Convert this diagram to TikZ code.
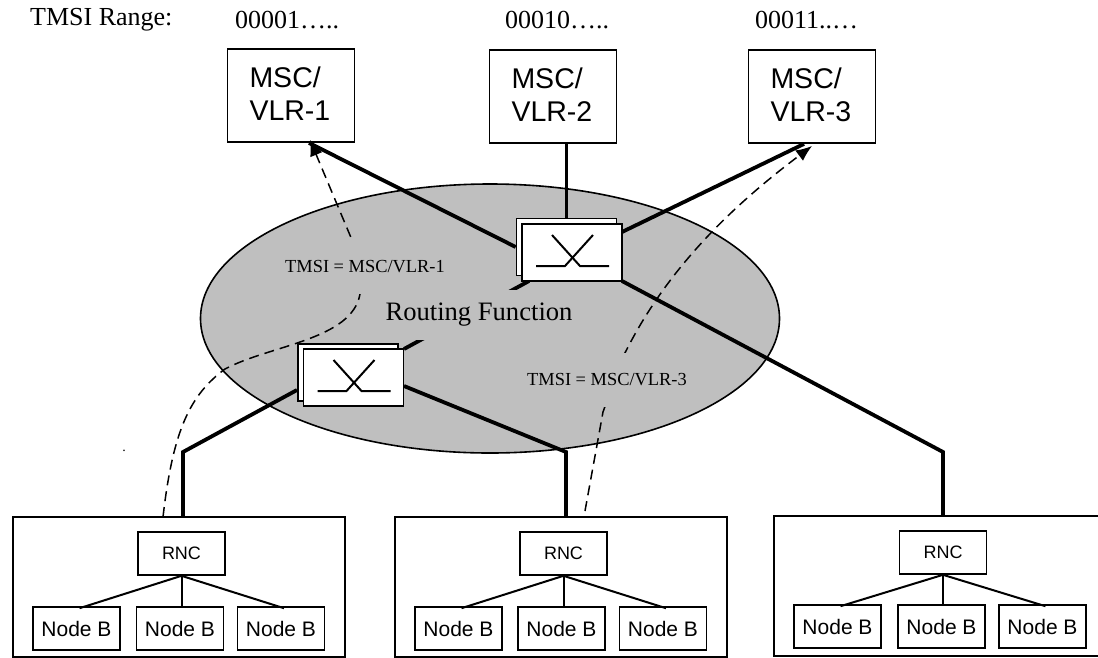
\documentclass[tikz,border=0pt]{standalone}
\usepackage{fontspec}
\setmainfont{Liberation Serif}
\setsansfont{Liberation Sans}
\usetikzlibrary{arrows.meta, shapes.geometric}
\definecolor{routegray}{HTML}{BFBFBF}
\tikzset{
    mscbox/.style = {draw, line width = 1.8, minimum width = 127, minimum height = 93, inner sep = 0, text width = 83, text depth = 37.6pt, font = \sffamily\fontsize{28.5}{33}\selectfont, align = left},
    rncbox/.style = {draw, line width = 1.6, minimum width = 87, minimum height = 43, inner sep = 0, font = \sffamily\fontsize{18}{20}\selectfont},
    nodebbox/.style = {draw, line width = 1.6, minimum width = 87, minimum height = 43, inner sep = 0, font = \sffamily\fontsize{21}{24}\selectfont},
    ranbox/.style = {draw, line width = 1.4, minimum width = 332, minimum height = 140, inner sep = 0},
    switchbox/.style = {draw, fill = white, line width = 1.6, minimum width = 100, minimum height = 57, inner sep = 0},
    trunk/.style = {line width = 3.8},
    linkline/.style = {line width = 2},
    signal/.style = {dash pattern = on 10pt off 6pt, line width = 1.5},
    rangetext/.style = {font = \fontsize{26}{30}\selectfont, inner sep = 0, anchor = base west},
    tmsitext/.style = {fill = routegray, inner sep = 0, minimum height = 54, font = \fontsize{18.4}{22}\selectfont}
}
\begin{document}
\begin{tikzpicture}[x = 1pt, y = -1pt]
    \useasboundingbox (0, 0) rectangle (1098, 657);
    \node[rangetext] (rangelabel) at (30, 25) {TMSI Range:};
    \node[rangetext] (range1) at (235, 28) {00001…..};
    \node[rangetext] (range2) at (505, 28) {00010…..};
    \node[rangetext] (range3) at (755, 28) {00011..…};
    \node[inner sep = 0, font = \fontsize{14}{16}\selectfont] (straydot) at (124, 451) {.};
    \node[mscbox] (msc1) at (291, 95.5) {MSC/\\VLR-1};
    \node[mscbox] (msc2) at (553, 96.5) {MSC/\\VLR-2};
    \node[mscbox] (msc3) at (812, 96.5) {MSC/\\VLR-3};
    \node[draw, ellipse, fill = routegray, line width = 1.6, minimum width = 579, minimum height = 269, inner sep = 0] (routing) at (490, 318.5) {};
    \foreach \n/\xg/\yg/\xr/\xa/\xb/\xc/\ya in {1/179/587/181.5/76.5/180/281/628.5, 2/561/587/563.5/458.5/561.5/663/628.5, 3/940/586/943/837.5/941.5/1042.5/626.5} {
        \node[ranbox] (ran\n) at (\xg, \yg) {};
        \node[rncbox] (rnc\n) at (\xr, \yg - 33.5) {RNC};
        \node[nodebbox] (nb\n a) at (\xa, \ya) {Node B};
        \node[nodebbox] (nb\n b) at (\xb, \ya) {Node B};
        \node[nodebbox] (nb\n c) at (\xc, \ya) {Node B};
        \draw[linkline] ([xshift = 3, yshift = -2]nb\n a.north) -- (rnc\n.south) -- ([xshift = 3, yshift = -2]nb\n c.north);
        \draw[linkline] (rnc\n.south) -- (rnc\n.south |- nb\n b.north);
    }
    \node[switchbox] (sw1b) at (566.5, 247) {};
    \node[switchbox] (sw2b) at (348, 372.5) {};
    \coordinate (elbow1) at (183, 452);
    \coordinate (elbow2) at (566, 452);
    \coordinate (elbow3) at (943, 452);
    \coordinate (sw1top) at (622, 232);
    \coordinate (sw1left) at (529, 281);
    \coordinate (sw1right) at (622, 281);
    \coordinate (sw2top) at (404, 349);
    \coordinate (sw2left) at (297, 390);
    \coordinate (sw2right) at (404, 386);
    \draw[trunk] ([xshift = 18]msc1.south) -- (sw1b.west);
    \draw[trunk] (sw1b.north |- msc2.south) -- (sw1b.north);
    \draw[trunk] ([xshift = -8]msc3.south) -- (sw1top);
    \draw[trunk] (sw1left) -- (sw2top);
    \draw[trunk] (sw1right) -- (elbow3) -- (elbow3 |- ran3.north);
    \draw[trunk] (sw2left) -- (elbow1) -- (elbow1 |- ran1.north);
    \draw[trunk] (sw2right) -- (elbow2) -- (elbow2 |- ran2.north);
    \coordinate (sig1start) at (163, 517);
    \coordinate (sig3start) at (585, 511);
    \draw[signal, -{Latex[length = 16pt, width = 13pt]}] (sig1start) .. controls (173, 430) and (190, 395) .. (225, 369) .. controls (270, 345) and (352, 340) .. (360, 294) -- (352, 240) -- ([xshift = 19, yshift = 3]msc1.south);
    \draw[signal, -{Latex[length = 16pt, width = 13pt]}] (sig3start) -- (603, 412) -- (622, 359) .. controls (660, 280) and (720, 215) .. (812, 146);
    \node[tmsitext] (tmsi1) at (365, 267) {TMSI = MSC/VLR-1};
    \node[tmsitext] (tmsi3) at (607, 380) {TMSI = MSC/VLR-3};
    \node[fill = routegray, inner sep = 0, minimum height = 50, font = \fontsize{26.6}{30}\selectfont] (routelabel) at (479, 315) {Routing Function};
    \node[switchbox] (sw1a) at (572, 252.5) {};
    \node[switchbox] (sw2a) at (353.5, 377.5) {};
    \foreach \s in {sw1a, sw2a} {
        \draw[linkline, shift = {(\s.center)}] (-36, 13.5) -- (-7, 13.5) -- (21, -17.5);
        \draw[linkline, shift = {(\s.center)}] (-20, -17.5) -- (8, 13.5) -- (37, 13.5);
    }
\end{tikzpicture}
\end{document}
